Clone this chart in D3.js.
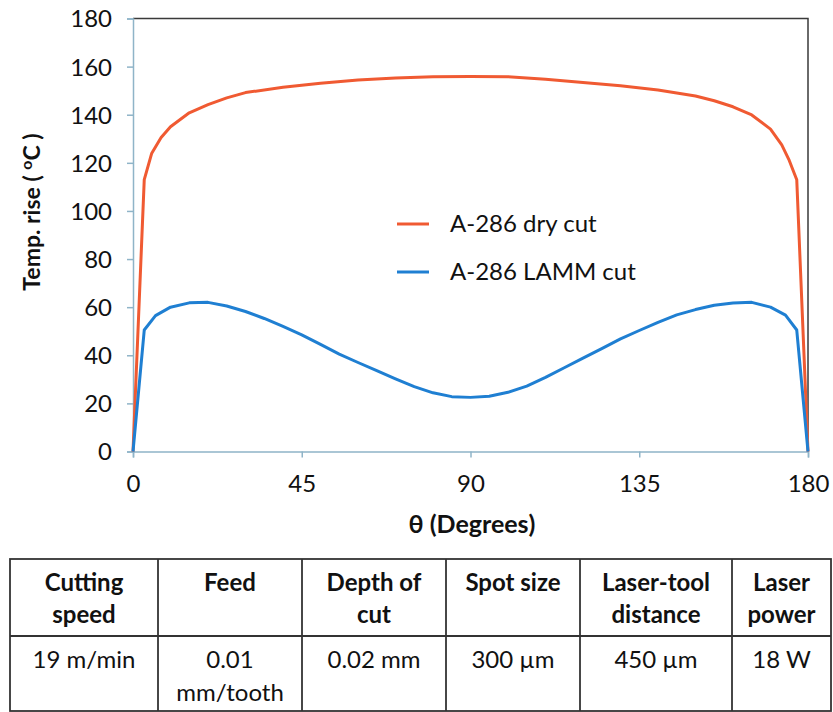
<!DOCTYPE html>
<html>
<head>
<meta charset="utf-8">
<script src="https://cdn.jsdelivr.net/npm/d3@7"></script>
<style>
  html, body { margin: 0; padding: 0; background: #fff; }
  svg { display: block; font-family: Lato, "Open Sans", sans-serif; }
</style>
</head>
<body>
<svg id="chart" width="833" height="712"></svg>
<script>
// Angle positions (degrees) at which temperatures were sampled
const dryAngles = [0, 3, 5, 7.5, 10, 15, 20, 25, 30, 40, 50, 60, 70, 80, 90, 100, 110, 120, 130, 140, 150, 155, 160, 165, 170, 173, 175, 177, 180];
const dryTemps  = [0, 113, 124, 130.5, 135, 140.8, 144.2, 147, 149.2, 151.4, 153.1, 154.4, 155.3, 155.8, 155.9, 155.8, 154.7, 153.4, 152, 150.3, 147.8, 145.8, 143.3, 139.9, 134, 127.5, 121, 113, 0];

const lammAngles = [0, 3, 6, 10, 15, 20, 25, 30, 35, 40, 45, 50, 55, 60, 65, 70, 75, 80, 85, 90, 95, 100, 105, 110, 115, 120, 125, 130, 135, 140, 145, 150, 155, 160, 165, 170, 174, 177, 180];
const lammTemps  = [0, 50.5, 56.5, 60, 61.8, 62, 60.5, 58.2, 55.3, 52, 48.5, 44.5, 40.5, 37, 33.6, 30.2, 27, 24.4, 22.8, 22.5, 23, 24.6, 27.2, 30.8, 34.8, 38.8, 42.8, 46.8, 50.3, 53.7, 56.8, 59, 60.8, 61.7, 62, 60, 56.7, 50.5, 0];

const seriesNames = ["A-286 dry cut", "A-286 LAMM cut"];
const seriesColors = ["#f05a32", "#1f7fd2"];

const xTicks = [0, 45, 90, 135, 180];
const yTicks = [0, 20, 40, 60, 80, 100, 120, 140, 160, 180];

// Process parameter table
const tableHeaders = [["Cutting", "speed"], ["Feed"], ["Depth of", "cut"], ["Spot size"], ["Laser-tool", "distance"], ["Laser", "power"]];
const tableValues  = [["19 m/min"], ["0.01", "mm/tooth"], ["0.02 mm"], ["300 µm"], ["450 µm"], ["18 W"]];

const svg = d3.select("#chart");

const plot = { left: 133, right: 808, top: 18.5, bottom: 451.5 };
const x = d3.scaleLinear().domain([0, 180]).range([plot.left, plot.right]);
const y = d3.scaleLinear().domain([0, 180]).range([plot.bottom, plot.top]);

const axisColor = "#8fb4c8";

// Top and right frame of the plot area
svg.append("path")
  .attr("d", `M${plot.left},${plot.top}H${plot.right}V${plot.bottom}`)
  .attr("fill", "none").attr("stroke", "#3a3a3a").attr("stroke-width", 1.5);

// Y axis
const yAxis = svg.append("g")
  .attr("transform", `translate(${plot.left},0)`)
  .call(d3.axisLeft(y).tickValues(yTicks).tickSize(6).tickPadding(18));
// X axis
const xAxis = svg.append("g")
  .attr("transform", `translate(0,${plot.bottom})`)
  .call(d3.axisBottom(x).tickValues(xTicks).tickSize(6).tickPadding(17));

[xAxis, yAxis].forEach(g => {
  g.select(".domain").attr("stroke", axisColor).attr("stroke-width", 1.5);
  g.selectAll(".tick line").attr("stroke", axisColor).attr("stroke-width", 1.5);
  g.selectAll(".tick text")
    .attr("fill", "#111")
    .style("font-family", "Lato, sans-serif")
    .style("font-size", "24px");
});
yAxis.selectAll(".tick text").attr("dy", "0.35em").attr("dx", "3");
xAxis.selectAll(".tick text").attr("dy", "0.71em");

// Series lines
const line = d3.line().x(d => x(d[0])).y(d => y(d[1]));
const series = [
  d3.zip(dryAngles, dryTemps),
  d3.zip(lammAngles, lammTemps)
];
series.forEach((pts, i) => {
  svg.append("path")
    .datum(pts)
    .attr("d", line)
    .attr("fill", "none")
    .attr("stroke", seriesColors[i])
    .attr("stroke-width", 3)
    .attr("stroke-linejoin", "round");
});

// Legend
const legend = svg.append("g");
seriesNames.forEach((name, i) => {
  const ly = 224 + i * 48;
  legend.append("line")
    .attr("x1", 397).attr("x2", 429).attr("y1", ly).attr("y2", ly)
    .attr("stroke", seriesColors[i]).attr("stroke-width", 3);
  legend.append("text")
    .attr("x", 450).attr("y", ly).attr("dy", "0.35em")
    .style("font-size", "24px").attr("fill", "#111")
    .text(name);
});

// Axis titles
const yTitle = svg.append("text")
  .attr("transform", "translate(40,212) rotate(-90)")
  .attr("text-anchor", "middle")
  .style("font-size", "23px").style("font-weight", "bold").attr("fill", "#111");
yTitle.append("tspan").text("Temp. rise ( ");
yTitle.append("tspan").attr("dy", "-8").style("font-size", "16px").text("o");
yTitle.append("tspan").attr("dy", "8").text("C )");

svg.append("text")
  .attr("x", 472).attr("y", 533)
  .attr("text-anchor", "middle")
  .style("font-size", "25px").style("font-weight", "bold").attr("fill", "#111")
  .text("θ (Degrees)");

// Parameter table
const colEdges = [10, 158, 302, 446, 580, 732, 831];
const tTop = 559, tMid = 636, tBottom = 711;
const table = svg.append("g");
table.append("rect")
  .attr("x", colEdges[0]).attr("y", tTop)
  .attr("width", colEdges[colEdges.length - 1] - colEdges[0]).attr("height", tBottom - tTop)
  .attr("fill", "none").attr("stroke", "#333").attr("stroke-width", 1.8);
table.append("line")
  .attr("x1", colEdges[0]).attr("x2", colEdges[colEdges.length - 1])
  .attr("y1", tMid).attr("y2", tMid)
  .attr("stroke", "#333").attr("stroke-width", 1.8);
colEdges.slice(1, -1).forEach(cx => {
  table.append("line")
    .attr("x1", cx).attr("x2", cx).attr("y1", tTop).attr("y2", tBottom)
    .attr("stroke", "#333").attr("stroke-width", 1.8);
});

tableHeaders.forEach((lines, i) => {
  const cx = (colEdges[i] + colEdges[i + 1]) / 2;
  lines.forEach((t, j) => {
    table.append("text")
      .attr("x", cx).attr("y", 591 + j * 32)
      .attr("text-anchor", "middle")
      .style("font-size", "24px").style("font-weight", "bold").attr("fill", "#111")
      .text(t);
  });
});
tableValues.forEach((lines, i) => {
  const cx = (colEdges[i] + colEdges[i + 1]) / 2;
  lines.forEach((t, j) => {
    table.append("text")
      .attr("x", cx).attr("y", 668 + j * 33)
      .attr("text-anchor", "middle")
      .style("font-size", "24px").attr("fill", "#111")
      .text(t);
  });
});
</script>
</body>
</html>
